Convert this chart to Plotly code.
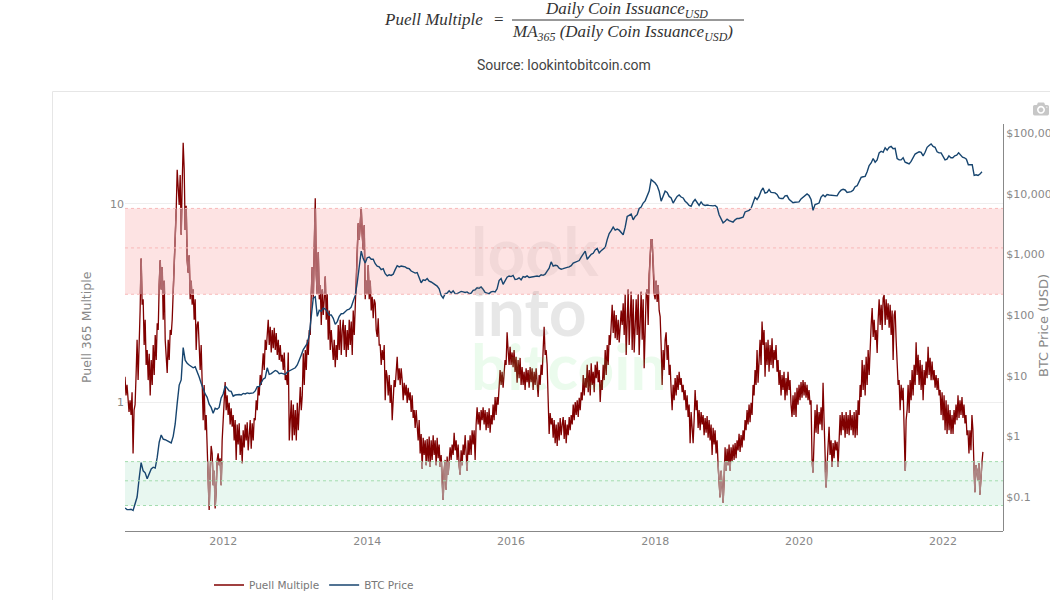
import numpy as np
import pandas as pd
import plotly.graph_objects as go

# puell multiple, one list per calendar year
puell_2010 = [1.34,1.08,1.22,.97,.89,1.02,.86,1.12,.55,.91,.97,1.37,2.06,1.29,2.45,2.9,5.3,3.1,3.3,1.94,2.6,1.54,1.83,1.29,1.75,1.08]
puell_2011 = [1.63,1.22,1.94,1.37,2.18,1.63,2.5,2.31,3.9,5.2,3.7,4.8,2.6,4.1,2.06,1.73,1.4,2.06,1.63,2.31,2.18,2.6,3.5,4.6,7.4,9.3,14.9,12.5,9.9,14,7,12.5,20.4,15,7.4,9.8,5.2,4.5,5.5,3.3,4.1,3.1,3.7,2.6,3.3,1.83,2.45,2.55,1.73,1.45,1.94,1.08,.81,1.22,.72,.86,.62,.45,.285,.45,.6,.55,.38,.45,.29,.36,.51,.55,.48,.52,.38,.64]
puell_2012 = [.78,.97,1.26,.91,1.08,.86,.99,.77,.93,.75,.86,.64,.81,.51,.77,.61,.78,.54,.68,.49,.72,.59,.77,.64,.79,.57,.72,.81,.58,.78,.64,.83,.81,1.02,.91,1.19,1.08,1.37,1.22,1.63,1.76,1.45,2.06,1.83,2.31,2.6,1.94,2.4,1.78,2.31,1.87,2.37,1.83,2.23,1.73,2.06,1.63,1.94,1.6,1.73,1.45,1.78,1.29,1.37,1.22,1.78,.64,.86,1.02,.64,.97,.68]
puell_2013 = [.91,.64,.99,.72,.91,1.19,.91,1.08,1.76,1.22,1.83,1.45,2.06,1.73,2.31,2.18,3.5,4.8,3.3,5.9,10.7,4.4,3.5,5.7,3.3,3.9,2.45,3.7,2.75,3.3,4.3,2.6,3.5,2.06,2.9,1.83,2.31,1.94,1.63,2.06,1.5,1.94,1.63,2.45,1.83,2.6,1.73,2.31,2.6,1.83,2.45,1.69,2.31,1.83,2.6,1.94,2.55,1.73,2.9,2.18,2.9,3.7,5.2,8,6.6,8.8,9.6,7,5.9,7.8,3.3,4.1]
puell_2014 = [3.5,4.9,3.3,4.1,2.9,3.4,2.65,3.3,3.15,2.31,2.13,2.65,1.94,1.94,1.54,1.83,1.63,1.94,1.02,1.45,1.34,1.08,1.37,.99,1.22,.81,1.08,1.29,1.19,1.54,1.69,1.29,1.48,1.22,1.48,1.29,1.02,1.25,1.08,1.22,.99,1.18,1.02,1.12,.89,1.08,.83,.91,.74,.91,.77,.64,.81,.55,.69,.46,.66,.54,.64,.48,.65,.5,.67,.47,.64,.51,.68,.54,.64,.48,.66,.52]
puell_2015 = [.61,.47,.54,.38,.32,.45,.51,.36,.53,.43,.51,.59,.51,.61,.54,.7,.57,.64,.51,.61,.48,.43,.57,.48,.61,.54,.68,.52,.45,.64,.54,.68,.54,.72,.61,.72,.51,.77,.94,.77,.89,.72,.91,.81,.94,.77,.91,.72,.89,.74,.93,.7,.86,.77,.97,.81,1.06,.86,1.06,.97,1.22,1.45,1.22,1.42,1.18,1.37,1.63,1.54,2.25,1.83,1.54,1.9]
puell_2016 = [1.54,1.78,1.5,1.83,1.42,1.69,1.25,1.63,1.32,1.67,1.22,1.5,1.22,1.42,1.15,1.48,1.26,1.45,1.18,1.5,1.26,1.48,1.15,1.42,1.22,1.48,1.29,1.06,1.37,1.22,1.54,1.37,1.83,2.4,1.73,1.83,1.54,1.02,.69,.88,.77,.83,.66,.81,.62,.77,.6,.79,.64,.83,.68,.77,.84,.65,.81,.62,.77,.68,.84,.72,.86,.77,.97,.81,1,.86,1.02,.84,1.05,.91,1.12,1.02]
puell_2017 = [1.37,1.08,1.32,1.18,1.54,1.12,1.45,1.08,1.57,1.22,1.42,1.12,1.54,1.32,1.6,1.26,1.45,1,1.29,1.15,1.54,1.29,1.83,1.37,1.94,1.54,2.18,1.94,2.6,3.1,2.23,2.9,2.1,2.75,2.06,2.6,2,2.31,2.9,2.45,3.15,2.18,3.5,1.73,2.6,3.7,1.94,2.9,3.6,1.83,3.3,1.78,2.6,3.3,2.18,3.5,1.73,2.75,3.6,2.06,3.3,1.48,2.9,3.5,3.7,2.45,4.4,5.5,6.6,6.6,5.1,3.5]
puell_2018 = [3.3,4.1,3.2,3.9,2.9,2.7,1.94,1.22,1.83,1.45,2.06,2.25,1.63,1.94,1.37,1.54,1.15,.91,1.22,1.02,1.32,1.08,1.37,1.15,1.42,1.22,1.32,1.12,1.22,1.02,1.15,.91,1.08,.84,.97,.62,.89,.72,.62,.81,1.15,.91,1.02,.74,.91,.72,.89,.77,.86,.68,.83,.7,.85,.66,.81,.64,.77,.54,.74,.61,.72,.55,.64,.48,.41,.33,.45,.36,.31,.4,.59,.45]
puell_2019 = [.58,.48,.61,.45,.59,.5,.61,.51,.62,.52,.64,.57,.69,.56,.68,.59,.72,.64,.81,.72,.91,.77,.97,.79,.99,.86,1.22,1.08,1.45,1.22,1.83,1.25,1.73,2.06,1.54,2.55,1.94,2.31,1.34,2,1.54,2.06,1.42,1.94,1.54,2.1,1.48,1.83,1.63,1.94,1.42,1.63,1.22,1.45,1.08,1.37,1.15,1.42,1.02,1.32,1.08,1.42,1.15,1.29,.97,.84,1.08,.86,1.12,.84,1.18,.97]
puell_2020 = [1.22,1.02,1.26,1.05,1.29,1.08,1.26,1.05,1.22,1.02,1.15,.97,1.02,.51,.44,.64,.91,.7,.97,.69,.89,.77,.94,.72,1.25,.81,.45,.37,.48,.64,.75,.54,.64,.47,.62,.52,.64,.57,.63,.47,.64,.86,.68,.89,.72,.86,.66,.89,.69,.86,.68,.91,.72,.86,.68,.89,.66,.91,.68,1.02,.86,1.22,1.06,1.63,1.15,1.54,1.08,1.69,1.22,1.83,1.37,2.06]
puell_2021 = [2.45,2.98,2.13,2.6,2.06,2.31,1.77,2.6,3.3,2.45,3.1,2.31,3.35,3.47,2.45,3.3,2.6,3.15,2.37,3.1,2.18,2.9,1.63,2.75,2.9,2.06,1.5,1.22,1.29,.91,1.22,1.02,1.18,.72,.45,.81,.91,1.22,.88,1.29,1.02,1.45,1.08,1.54,1.22,2,1.37,1.73,1.22,1.63,1.15,1.54,1.02,1.45,1.22,1.6,1.32,1.9,1.37,1.67,1.29,1.6,1.29,1.45,1.18,1.37,1.15,1.32,1.08,1.15,.86,1.12]
puell_2022 = [.81,1.08,.72,1.02,.69,.97,.72,.91,.69,.86,.69,.91,.77,.97,.81,1.08,.83,1.02,.86,1.06,.83,.97,.78,.86,.68,.72,.55,.72,.57,.86,.72,.48,.35,.48,.45,.4,.49,.34,.45,.49,.56]

# btc price in usd, same idea, about one reading per fortnight
btc_2010 = [.066,.062,.062,.063,.06,.08,.1,.2,.37,.27,.25,.2,.25]
btc_2011 = [.29,.31,.3,.45,.8,1.05,.9,.88,.85,.8,.78,1,1.6,3.5,7,8.5,29,18,16,15,14,13.5,14,11,9.5,7.5,6,5,4.4,3.4,3,2.4,2.9,2.8,3,4.3]
btc_2012 = [5,6.8,6.2,5.6,5.5,4.6,4.8,4.9,4.9,4.8,5.1,5,5.2,5.1,5.1,5.2,5.6,6.6,6.6,7.6,8.8,9.2,13.5,10.5,10.8,11.5,12.2,11.8,10.8,11,10.6,10.5,11.5,12,12.7,13]
btc_2013 = [13.5,15,19,22,27,30,34,47,90,190,200,95,120,115,130,125,115,100,100,88,70,78,95,105,106,115,122,125,135,170,210,340,650,1130,850,720]
btc_2014 = [880,900,830,830,700,640,620,560,580,480,440,460,450,470,560,650,620,640,630,620,590,580,530,510,490,500,400,340,380,370,400,360,350,330,320,300]
btc_2015 = [270,210,190,225,230,250,230,250,225,225,235,245,240,235,240,225,230,255,260,280,275,290,265,235,230,225,240,245,240,270,370,400,320,360,420,440]
btc_2016 = [430,450,385,390,410,380,430,420,440,415,420,420,430,440,430,460,450,470,530,590,750,640,660,650,590,570,580,600,610,620,650,720,740,770,790,900]
btc_2017 = [1000,1130,830,920,1000,1040,1180,1250,1050,1150,1230,1300,1750,2200,2450,2800,2500,2600,2500,2300,2100,2800,4200,4400,4600,3700,4200,4500,5700,6000,7000,7600,9000,11000,17000,16000]
btc_2018 = [15000,13500,11000,7500,9000,11000,10500,9000,8500,7000,8000,9000,9500,8800,8500,7500,7000,6400,6200,7300,8000,7000,6400,7300,6600,6400,6500,6400,6300,6300,6400,6000,4500,3900,3300,3500]
btc_2019 = [3800,3600,3500,3400,3700,3900,3900,4000,4100,5000,5200,5300,5700,7200,8700,8000,9000,11000,12400,10200,10500,11700,10500,10400,10300,9700,8500,8300,8300,9200,9300,8100,7500,7100,7200,7300]
btc_2020 = [7300,8200,8800,9500,9900,9300,8000,5300,6600,6800,7000,8800,9500,8900,9700,9500,9400,9200,9300,9200,10500,11400,11800,11500,10500,10700,10800,11400,13000,13500,15500,18500,19000,19300,23000,29000]
btc_2021 = [32000,38000,33000,36000,47000,50000,48000,57000,52000,58000,60000,55000,56000,38000,36000,36000,39000,33000,32000,31000,34000,40000,45000,47000,49000,48000,42000,48000,58000,62000,66000,60000,58000,49000,47000,47000]
btc_2022 = [42000,36000,37000,42000,39000,39000,42000,43000,47000,44000,40000,39000,37000,30000,30000,30000,20000,20500,20000,21000,23000]

# start of each chunk, last one is where the data stops
chunk_starts = ["2010-08-21", "2011-01-01", "2012-01-01", "2013-01-01", "2014-01-01", "2015-01-01", "2016-01-01",
                "2017-01-01", "2018-01-01", "2019-01-01", "2020-01-01", "2021-01-01", "2022-01-01", "2022-07-27"]
puell_years = [puell_2010, puell_2011, puell_2012, puell_2013, puell_2014, puell_2015, puell_2016,
               puell_2017, puell_2018, puell_2019, puell_2020, puell_2021, puell_2022]
btc_years = [btc_2010, btc_2011, btc_2012, btc_2013, btc_2014, btc_2015, btc_2016,
             btc_2017, btc_2018, btc_2019, btc_2020, btc_2021, btc_2022]

red_levels = [3.5, 6, 9.5]
green_levels = [0.3, 0.4, 0.5]
left_ticks = [1, 10]
right_ticks = [0.1, 1, 10, 100, 1000, 10000, 100000]
right_labels = ["$0.1", "$1", "$10", "$100", "$1,000", "$10,000", "$100,000"]


def join_years(years):
    dates, values = [], []
    for i, vals in enumerate(years):
        d = pd.date_range(chunk_starts[i], chunk_starts[i + 1], periods=len(vals) + 1)[:-1]
        dates.extend(d)
        values.extend(vals)
    return dates, values


# plot area in page pixels, only used to place the decorations
L, R, T, B = 125, 1003, 124, 531
PUELL_RANGE = [-0.6515, 1.404]


def px(x):
    return (x - L) / (R - L)


def py(y):
    return (B - y) / (B - T)


def band_axis(lo, hi):
    # hidden axis that only covers one band, so the line drawn on it is cut at the band edges
    a, b = PUELL_RANGE
    dom = [(np.log10(lo) - a) / (b - a), (np.log10(hi) - a) / (b - a)]
    return dict(type="log", range=[np.log10(lo), np.log10(hi)], domain=dom, visible=False)


puell_x, puell_y = join_years(puell_years)
btc_x, btc_y = join_years(btc_years)

fig = go.Figure()
fig.add_trace(go.Scatter(x=puell_x, y=puell_y, mode="lines", name="Puell Multiple",
                         line=dict(color="#800000", width=1.3)))
# washed out copies of the same line inside the two bands
fig.add_trace(go.Scatter(x=puell_x, y=puell_y, mode="lines", yaxis="y2", showlegend=False,
                         line=dict(color="#b06a6e", width=1.5)))
fig.add_trace(go.Scatter(x=puell_x, y=puell_y, mode="lines", yaxis="y3", showlegend=False,
                         line=dict(color="#ad8684", width=1.5)))
fig.add_trace(go.Scatter(x=btc_x, y=btc_y, mode="lines", name="BTC Price", yaxis="y4",
                         line=dict(color="#17456f", width=1.4)))

shapes = [
    # panel border, runs off the right edge of the page
    dict(type="rect", xref="paper", yref="paper", x0=px(52.5), x1=px(1070), y0=py(91.5), y1=py(620),
         line=dict(color="#e6e6e6", width=1), layer="below"),
    # fraction bar
    dict(type="line", xref="paper", yref="paper", x0=px(512), x1=px(744), y0=py(20), y1=py(20),
         line=dict(color="#333333", width=1)),
    dict(type="rect", xref="paper", yref="y", x0=0, x1=1, y0=red_levels[0], y1=red_levels[2],
         fillcolor="#fde3e3", line=dict(width=0), layer="below"),
    dict(type="rect", xref="paper", yref="y", x0=0, x1=1, y0=green_levels[0], y1=green_levels[2],
         fillcolor="#e8f7f0", line=dict(width=0), layer="below"),
]
for lev in red_levels:
    shapes.append(dict(type="line", xref="paper", yref="y", x0=0, x1=1, y0=lev, y1=lev,
                       line=dict(color="#f8b9b9", width=1, dash="dot")))
for lev in green_levels:
    shapes.append(dict(type="line", xref="paper", yref="y", x0=0, x1=1, y0=lev, y1=lev,
                       line=dict(color="#a3dcae", width=1, dash="dot")))

serif = "Liberation Serif"
annotations = [
    dict(x=px(382), y=py(19), xanchor="left", text="<i>Puell Multiple</i>", font=dict(family=serif, size=17, color="#333")),
    dict(x=px(492), y=py(19), xanchor="left", text="=", font=dict(family=serif, size=17, color="#333")),
    dict(x=px(543), y=py(10), xanchor="left", text="<i>Daily Coin Issuance<sub>USD</sub></i>", font=dict(family=serif, size=17, color="#333")),
    dict(x=px(510), y=py(33), xanchor="left", text="<i>MA<sub>365</sub> (Daily Coin Issuance<sub>USD</sub>)</i>", font=dict(family=serif, size=17, color="#333")),
    dict(x=px(564), y=py(65), xanchor="center", text="Source: lookintobitcoin.com", font=dict(family="Roboto", size=14, color="#444")),
    # axis titles
    dict(x=px(86), y=py(327), xanchor="center", textangle=-90, text="Puell 365 Multiple", font=dict(size=12.5, color="#888888")),
    dict(x=px(1043), y=py(326), xanchor="center", textangle=-90, text="BTC Price (USD)", font=dict(size=13, color="#888888")),
    # watermark
    dict(x=px(469), y=py(250), xanchor="left", text="<b>look</b>", font=dict(family="Lato", size=66, color="rgba(110,90,90,0.08)")),
    dict(x=px(469), y=py(310), xanchor="left", text="<b>into</b>", font=dict(family="Lato", size=66, color="rgba(110,110,110,0.17)")),
    dict(x=px(469), y=py(365), xanchor="left", text="<b>bitcoin</b>", font=dict(family="Lato", size=64, color="rgba(90,220,110,0.12)")),
]
for a in annotations:
    a.update(xref="paper", yref="paper", showarrow=False, yanchor="middle")

fig.update_layout(
    width=1050,
    height=600,
    margin=dict(l=L, r=1050 - R, t=T, b=600 - B, autoexpand=False),
    paper_bgcolor="white",
    # has to stay see-through, the overlapping subplots would paint over each other
    plot_bgcolor="rgba(0,0,0,0)",
    font=dict(family="DejaVu Sans", size=11, color="#888888"),
    shapes=shapes,
    annotations=annotations,
    legend=dict(orientation="h", x=px(209), y=py(585), xanchor="left", yanchor="middle",
                font=dict(size=10.5, color="#777777")),
    modebar=dict(color="rgba(68,68,68,0.3)", bgcolor="rgba(0,0,0,0)"),
    xaxis=dict(range=["2010-08-21", "2022-11-01"], tick0="2012-01-01", dtick="M24", showgrid=False, automargin=False,
               showline=True, linecolor="#888888", zeroline=False, tickformat="%Y"),
    yaxis=dict(type="log", range=PUELL_RANGE, tickvals=left_ticks, ticktext=["1", "10"], automargin=False,
               gridcolor="#eeeeee", zeroline=False),
    yaxis2=band_axis(red_levels[0], red_levels[2]),
    yaxis3=band_axis(green_levels[0], green_levels[2]),
    yaxis4=dict(type="log", range=[-1.56, 5.148], side="right", tickvals=right_ticks, automargin=False,
                ticktext=right_labels, showgrid=False, showline=True, linecolor="#888888", zeroline=False),
)

fig.write_html(
    "out.html",
    config={"displayModeBar": True, "displaylogo": False, "modeBarButtons": [["toImage"]]},
    post_script="document.body.style.margin='0';document.querySelector('.modebar-container').style.top='96px';"
                "document.querySelector('.modebar').style.right='-3px';",
)
